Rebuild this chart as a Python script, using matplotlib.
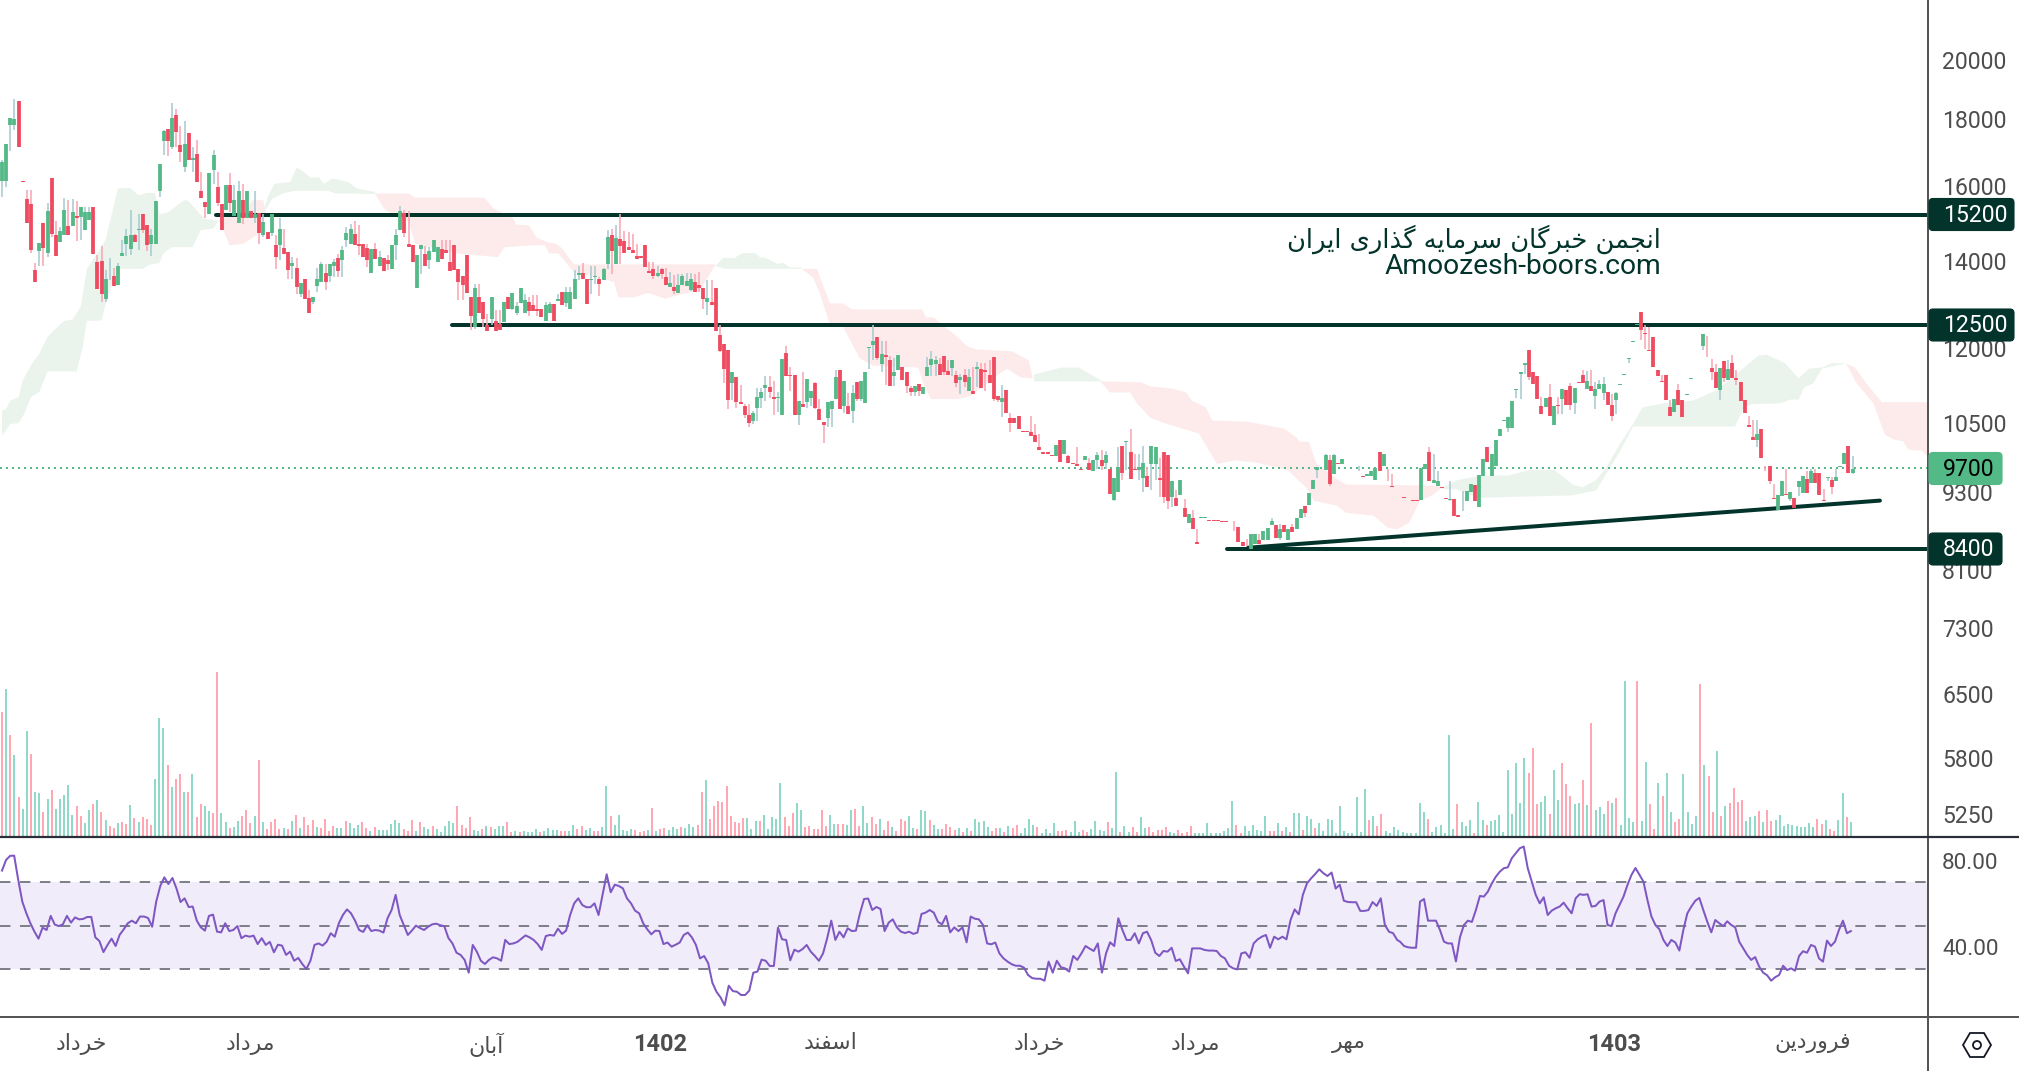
import numpy as np
import matplotlib
matplotlib.use("Agg")
import matplotlib.pyplot as plt
from matplotlib.patches import FancyBboxPatch, Polygon, Circle
from matplotlib.ticker import FixedLocator, FixedFormatter, NullLocator

# ---------- candle data (prices) ----------
candle_dir = (
"GGGGRRRRRG" "RGRRGGRGRG" "GGRRRGGRGG" "GGRGRRGGGG" "RGRRGRGRRR" "GGRRGRGGRG" "RGRGRGRGRR" "GRGRRGGGRG" "GRGGGRRRRG" "RGRRGGGRRR"
"GGRGGGRRRR" "RRRRGRRRGR" "RGRGGGGRRR" "RGGRGRGGGG" "RRGGRGGRGR" "RRRRRRRRGR" "RGRGGGGRR"
"RGRRRRRGRR" "RRGGGGRRGG" "RRRGRGGRRR" "GGGRGRGRGG" "GGRGRRGGRR" "RGRGGGGRRR" "GRGRGRGRRR" "RRGRRRRRRR" "RRRRRGRGRR" "RRGRGGRGRG" "GRGRRGGRGG" "RRRGRGRGRR" "GGRRRRRRRR" "RRGGRGGGRG" "RGRGGRGGGG" "GRGRGRR"
"RGRGGGRGRR" "RRRRRRGGRG" "GRRGRRGGGR" "GGRGGGGGGG" "GGRRRRGRGR" "GRRGRRGRGG" "GRRGGGGGGR" "RRRRRRRGRR" "GGGGGRRRGR" "GRRRRRRGRR" "RRGGRGRGGR" "GRRRGRGGGR" "G")

body_high = [
16700,17230,18060,18000,18600,16130,15630,15490,13770,14470,
14990,15290,16210,14660,14760,15320,14890,15270,15160,15400,
15270,15270,15400,13980,14000,13560,13890,13630,13890,14200,
14630,14660,14660,14830,15210,14920,14660,15570,16630,17630,
17690,18040,18140,17200,17230,17570,16820,16940,15850,15540,
16360,16890,15960,15490,16010,16010,15600,15850,15600,15850,
15290,15210,15240,15000,14740,15210,14400,14810,14320,14220,
13960,13820,13460,13560,13120,13130,13560,13920,13720,13920,
13970,14070,14270,14710,14810,14680,14430,14430,14320,14300,
14300,14100,14070,14020,14400,14660,15290,15240,14430,14400,
14150,14400,14170,14250,14530,14350,14300,14270,13970,14400,
13800,13630,14150,13130,13340,13130,13010,12490,13130,12580,
12530,13010,13130,13220,12920,13340,13060,13010,12940,12850,
12850,12940,12970,12970,13080,13250,13250,13250,13560,13700,
13720,13560,13560,13630,13560,13800,14600,14660,14580,14550,
14500,14350,14270,14120,14120,14400,13750,13800,13720,13800,
13600,13460,13360,13410,13630,13510,13560,13480,13410,
13340,13120,13010,13340,12270,12090,11950,11510,11390,10910,
10820,10650,10700,11010,11090,11230,11190,11010,11010,11760,
11900,11430,11430,10930,10860,11350,11110,11270,10760,10530,
10900,10930,11390,11550,11310,10820,11070,11290,11310,11490,
12030,12140,12230,11880,11860,11740,11490,11860,11610,11510,
11170,11210,11250,11190,11610,11760,11740,11670,11840,11530,
11740,11430,11390,11430,11390,11110,11610,11570,11550,11430,
11820,11030,10990,11130,10590,10590,10630,10350,10350,10330,
10280,10060,9970,9970,9920,10110,10200,10200,9900,9780,
9760,9690,9900,9780,9840,9930,9840,9930,9690,9530,
9720,10080,10170,9970,9690,9710,9790,9570,10080,10060,
9530,9970,9930,9470,9200,9500,9040,8940,8880,8500,
8890,8890,8850,8850,8850,8835,8835,8740,8680,8740,
8500,8450,8620,8620,8530,8680,8720,8835,8770,8710,
8770,8700,8730,8880,9020,9060,9280,9500,9720,9790,
9920,9840,9930,9780,9860,9670,9655,
9655,9655,9570,9590,9655,9700,9970,9940,9485,9400,
9385,9270,9210,9170,9165,9165,9695,9760,9985,9495,
9485,9370,9190,9180,9180,8930,9154,9318,9420,9415,
9580,9850,10075,9940,10200,10385,10565,10610,10915,11150,
11490,11675,11949,11490,11410,10835,10990,11010,10835,10855,
11150,11129,11210,11170,11290,11430,11310,11210,11150,11250,
11250,11090,10855,11070,11250,11450,11790,12140,12520,12800,
12315,11949,12230,11532,11310,11430,10815,10970,11129,10950,
11050,11370,11695,11925,12300,11820,11575,11490,11575,11720,
11555,11695,11370,11290,10950,10460,10240,10310,10400,9655,
9740,9195,9250,9470,9260,9300,9200,9470,9570,9520,
9655,9620,9620,9170,9550,9500,9550,9740,9955,10090,
9690]

body_low = [
16130,16140,17820,17820,17150,16110,14980,14270,13490,14250,
14340,14210,14680,14130,14490,14660,14660,14890,15100,15140,
14790,15050,14170,13320,13210,13100,13880,13390,13410,14130,
14430,14300,14490,14800,14800,14410,14430,14430,15850,17320,
17320,17150,17610,16980,16550,16750,16750,16110,15650,15400,
15210,16450,15520,14790,15320,15510,15180,14970,15100,15120,
15100,15100,14710,14660,14550,14710,14100,14400,14170,13770,
13870,13370,13200,13100,12780,13010,13390,13490,13480,13630,
13890,13750,14020,14530,14440,14400,14370,14100,14020,13700,
14050,13890,13750,13920,13800,14400,14790,14710,14360,13970,
13340,14300,13890,14020,14220,13970,14050,14200,13750,13770,
13480,13410,13220,12690,12450,12780,12630,12360,12630,12360,
12380,12560,12850,12850,12780,12990,12760,12810,12810,12810,
12670,12600,12760,12600,13040,12940,12990,12850,13100,13650,
13560,12970,13530,13600,13440,13530,13920,14250,13920,14370,
14200,14270,14200,14050,14080,13850,13720,13630,13630,13680,
13410,13360,13270,13220,13410,13390,13290,13250,13340,
13090,13030,12940,12360,11930,11570,10950,11270,10900,10870,
10650,10510,10550,10780,10990,11170,11090,10970,10990,10650,
11410,11410,10660,10660,10800,10900,10990,10780,10570,10460,
10590,10760,10970,10760,10820,10680,10740,10970,10970,10880,
12010,12060,11780,11670,11820,11210,11410,11550,11330,11210,
11090,11090,11110,11050,11410,11650,11670,11430,11510,11430,
11590,11270,11330,11290,11110,11050,11570,11170,11510,11270,
10970,10950,10900,10700,10500,10500,10400,10330,10330,10260,
10150,10020,9950,9950,9900,9900,9810,9950,9790,9760,
9740,9670,9840,9660,9640,9830,9740,9790,9270,9170,
9300,9620,10150,9520,9670,9660,9530,9380,9760,9760,
9490,9220,9140,9220,9060,9250,8890,8800,8700,8480,
8880,8880,8830,8830,8830,8820,8820,8730,8670,8510,
8450,8440,8400,8470,8480,8540,8540,8760,8570,8570,
8660,8530,8660,8700,8880,8960,9090,9350,9660,9780,
9670,9430,9590,9760,9760,9660,9645,
9645,9645,9550,9570,9570,9500,9655,9740,9470,9385,
9375,9260,9195,9160,9154,9154,9165,9690,9485,9440,
9390,9360,9175,9170,8910,8890,9145,9154,9300,9154,
9050,9570,9810,9570,9740,10270,10545,10420,10420,11130,
11465,11635,11395,11250,10970,10665,10815,10645,10475,10835,
10970,10855,10855,10875,11270,11270,11150,11115,11030,11150,
11070,10855,10645,10933,11235,11435,11770,12130,12500,12381,
12300,11935,11610,11410,11295,10950,10645,10720,10855,10625,
11035,11355,11685,11915,12050,11805,11490,11170,11129,11370,
11329,11370,11329,10915,10685,10440,10200,10200,9865,9645,
9485,9180,9005,9230,9245,9180,9040,9385,9285,9285,
9450,9450,9250,9140,9535,9385,9470,9720,9760,9620,
9620]

wick_high = [
16750,17230,18060,18660,18600,16130,15880,15880,13960,14470,
14990,15510,16210,15030,14880,15650,15600,15620,15580,15400,
15410,15410,15400,14150,14370,13790,14090,13830,13960,14530,
14810,15340,14700,15210,15230,14920,14810,15570,16630,17680,
17690,18520,18350,17790,17950,17570,17150,17350,16390,15540,
16360,17040,16390,15490,16010,16360,16020,16130,16050,15850,
15290,15850,15240,15210,14740,15230,14660,15120,14810,14220,
14100,14070,13460,13560,13290,13130,13820,13970,13920,13920,
14060,14190,14370,14880,14950,15030,14920,14430,14440,14300,
14470,14250,14070,14150,14400,14810,15450,15320,15290,14400,
14150,14400,14370,14360,14530,14350,14530,14530,14530,14400,
13800,13630,14150,13130,13450,13450,13010,12750,13130,12830,
12830,13010,13130,13220,13030,13340,13210,13140,13190,13190,
12850,13020,13020,12970,13210,13250,13370,13380,13770,13890,
13960,13560,13870,13890,13610,13830,14790,14810,14920,15230,
14770,14750,14700,14430,14120,14400,13980,13980,13870,13830,
13830,13730,13670,13690,13690,13700,13700,13690,13730,
13340,13531,13531,13340,12490,12090,11950,11510,11390,11230,
10860,10860,10730,11170,11170,11410,11410,11310,11100,11760,
12040,11600,11430,10930,11510,11350,11110,11290,10970,10530,
10900,10930,11550,11550,11310,11070,11230,11290,11310,11490,
12030,12490,12230,12140,12140,11840,11790,11860,11610,11510,
11210,11210,11250,11190,11800,11930,11840,11780,11840,11740,
11740,11530,11460,11560,11570,11610,11700,11680,11680,11740,
11820,11030,11230,11130,10700,10590,10630,10350,10350,10630,
10480,10300,9970,9970,9920,10110,10200,10200,9930,9780,
10060,9690,9900,9880,9840,9970,10020,9990,9690,9530,
10060,10080,10170,10390,9950,9950,10080,9710,10080,10060,
9880,9970,9930,9470,9320,9500,9180,8940,9010,8700,
8890,8890,8850,8850,8850,8835,8835,8740,8835,8740,
8500,8550,8620,8620,8630,8680,8720,8880,8770,8780,
8770,8700,8780,8880,9020,9060,9280,9500,9720,9790,
9950,9920,9950,9780,9860,9670,9655,
9655,9740,9570,9590,9655,9700,9970,9940,9680,9590,
9385,9270,9210,9170,9165,9165,9695,9760,10060,9940,
9655,9370,9190,9485,9180,8930,9318,9318,9420,9415,
9580,9850,10075,9940,10200,10385,10565,10610,10915,11150,
11490,11675,11949,11490,11410,10995,10990,11250,10835,10995,
11150,11129,11275,11170,11290,11532,11520,11532,11295,11329,
11395,11090,11060,11095,11250,11450,11790,12140,12520,12800,
12500,12460,12230,11532,11430,11430,10933,10970,11265,10950,
11050,11370,11695,11925,12300,12260,11770,11670,11575,11720,
11738,11845,11532,11290,10950,10645,10552,10552,10400,9740,
9740,9430,9250,9470,9690,9300,9200,9470,9570,9655,
9690,9690,9620,9345,9550,9550,9690,9740,9955,10090,
9900]

wick_low = [
15690,15970,17030,17660,17150,16110,14980,14210,13490,13880,
13880,14100,14620,14130,14490,14660,14660,14890,14510,14540,
14790,15050,14170,13320,13020,13020,13530,13390,13410,14130,
14130,14150,14490,14270,14720,14250,14130,14430,15690,16910,
16860,17070,17150,16700,16390,16750,16400,16110,15650,15100,
15210,16050,15430,14790,15320,15270,15180,14970,14960,15120,
15100,14980,14430,14620,14550,14630,13800,14020,14170,13560,
13560,13210,13140,13100,12780,12970,13250,13490,13290,13480,
13610,13610,13610,14360,14440,14400,14150,14100,13860,13700,
14050,13890,13750,13770,13800,14020,14790,14620,14360,13970,
13340,13690,13890,13800,14220,13970,14050,14200,13750,13770,
13060,13060,13220,12380,12420,12780,12460,12360,12490,12360,
12380,12560,12850,12830,12720,12990,12760,12690,12810,12690,
12670,12600,12760,12600,13040,12940,12900,12850,13100,13530,
13560,12970,13200,13440,13170,13530,13800,13690,13920,13920,
14200,14270,14200,14050,14080,13850,13700,13570,13610,13560,
13410,13360,13210,13220,13410,13390,13270,13250,13250,
12870,12720,12940,12360,11910,11270,10760,10950,10780,10870,
10600,10440,10480,10550,10780,10930,10990,10660,10720,10650,
11410,11110,10660,10460,10800,10780,10820,10760,10570,10130,
10440,10430,10970,10760,10700,10680,10510,10930,10930,10880,
11570,11740,11740,11490,11230,11210,11210,11550,11330,11070,
11030,11030,11030,11050,11410,11410,11410,11430,11430,11430,
11410,11190,11060,11190,11110,11050,11190,11170,11110,11270,
10930,10910,10610,10700,10330,10500,10400,10330,10330,10260,
10150,10020,9950,9950,9900,9900,9810,9950,9790,9760,
9740,9670,9840,9660,9640,9680,9660,9680,9270,9150,
9300,9490,9660,9520,9660,9490,9300,9380,9320,9490,
9210,9110,9020,9050,9060,9250,8890,8800,8700,8480,
8880,8880,8830,8830,8830,8820,8820,8730,8670,8510,
8450,8440,8400,8470,8470,8540,8540,8760,8570,8530,
8660,8530,8660,8700,8880,8890,9090,9350,9530,9780,
9670,9400,9590,9760,9760,9660,9645,
9645,9645,9550,9570,9570,9500,9655,9740,9470,9385,
9375,9260,9195,9160,9154,9154,9165,9690,9485,9440,
9390,9360,9175,9154,8910,8890,8993,9154,9300,9154,
9050,9570,9810,9570,9740,10270,10545,10340,10420,10990,
10965,11465,11329,11250,10970,10665,10815,10645,10475,10675,
10675,10855,10741,10675,11270,11270,11150,11115,10770,11150,
10933,10855,10540,10675,11235,11435,11685,12130,12500,12163,
11985,11935,11610,11410,11295,10950,10645,10720,10855,10625,
11035,11355,11685,11915,11949,11805,11329,11170,10933,11295,
11329,11370,11230,10915,10685,10440,10200,10075,9865,9645,
9420,9180,9005,9230,9245,9140,9040,9230,9285,9285,
9450,9450,9250,9140,9470,9270,9470,9720,9760,9620,
9600]

# signed volume: negative bars belong to falling candles
volume_a = [
-371,439,-301,241,-115,79,313,-244,130,127,-70,109,-136,79,109,121,151,61,-88,-58,
37,76,-94,106,-70,46,-28,-22,37,-40,-34,91,-52,40,-55,-49,-31,169,352,322,
-211,145,-169,-184,130,-130,184,-55,-94,88,73,-67,-490,67,40,-22,25,43,-58,-76,
-37,58,-226,40,-19,-40,-49,-19,22,-19,43,-61,22,-55,-31,-46,25,-22,-49,-13,
-28,22,22,-43,37,22,31,-40,-22,13,-25,16,16,16,34,46,37,-19,-13,-46,
13,-40,25,19,-28,19,10,28,43,37,-88,-31,-22,-55,16,13,-19,28,-25,19,
28,28,-40,-10,13,-10,13,10,10,19,-10,13,22,16,16,-13,-13,13,31,-19,
-28,16,22,-13,-13,25,148,-58,31,61,16,13,19,-16,-10,-13,16,-82,13,-19,
-22,16,25,19,-25,22,34,25,-31]
volume_b = [
-130,166,-49,-88,-103,-100,-148,-58,-40,-37,-52,52,19,43,-43,61,19,55,49,157,
-55,-28,-67,97,76,-25,-28,-19,-19,-76,-28,61,34,-34,-34,31,76,-79,-28,88,
37,-55,-34,49,-16,-43,25,-13,-49,-43,58,22,-19,76,73,-46,31,19,-19,-34,
-25,-16,22,-10,22,-13,49,40,43,25,-13,-22,22,-10,28,-22,-31,7,22,49,
31,-25,7,19,7,37,-13,-13,-16,10,43,10,-16,-10,19,43,16,13,-40,22,
190,-10,28,10,-25,-10,55,22,-25,-10,-16,-16,-25,10,7,-16,-7,-10,-28,7,
7,7,37,7,7,7,13,22,103,-31,-7,28,13,31,16,13,58,-13,-13,37,
-13,25,-10,67,67,-16,58,49,-22,37,13,49,46,7,88,13,7,7,115,10,
139,-46,58,-28,-64,13,7,25,16]
volume_c = [
10,7,7,7,97,70,-49,10,25,31,7,301,19,-94,40,28,46,-7,100,46,
-31,43,46,61,10,196,64,217,97,232,-187,-262,-94,100,118,-64,196,106,-217,-154,
-118,94,97,-166,91,-337,76,85,64,-103,97,-112,31,463,52,40,-463,43,220,-94,
-19,157,-118,187,70,-40,-49,184,70,34,58,-454,211,-178,-70,253,-58,88,-97,-142,
-100,-106,43,55,58,-73,40,-76,-43,46,61,28,34,31,28,25,25,37,25,-49,
-34,46,-19,-13,46,127,-55,40]
volume_a_bars = [0.0, 168.0]
volume_b_bars = [169.0, 337.2]
volume_c_bars = [338.4, 446.6]

rsi_a = [
75.4,80.3,82.2,82.3,71.1,61.1,55.7,51.1,47.2,44,49.1,48,54.5,50.5,49.8,50.6,54.5,51.4,53.8,52.9,
53.1,54,54,44.6,42.9,37.8,41.1,44,40.6,45.8,48.3,51.1,52.3,51.1,54.2,54.2,53.5,49.5,61.1,68.3,
72.3,69.2,72,67.1,60.9,62.6,58.6,58.8,52.3,49.2,47.7,54.5,55.1,47.2,46.9,51.1,47.5,48,49.8,44.2,
45.4,44.9,45.4,41.5,44.2,41.1,42.5,37.7,41.2,40.8,36.5,38,33.8,35.1,32.3,30,33.8,41.1,41.8,40.8,
42.6,46.5,44.9,51.1,54.9,57.5,55.7,52.3,48,47.1,50.2,47.5,48,47.7,46.8,53.4,57.2,64.2,54.9,50.3,
45.7,47.7,50,48.9,48,49.5,50.6,50.9,50.2,49.7,44.3,41.8,37.5,36.5,34.2,28.3,41.1,38,33.8,32.3,
34.2,35.4,34.9,33.8,43.4,41.5,41.8,42.5,44,45.5,44.6,43.4,41.5,38.8,45.2,45.7,45.4,48.6,46.2,47.7,
54.9,60.3,62.6,59.5,58.5,58.5,60.3,54.9,64.2,73.7,65.4,68.9,68.3,67.2,62.6,60.3,56.9,55.7,51.1,48.3,
46,47.7,47.5,41.5,42.2,40.3,41.2,42.2,45.7,46.8,44.6,41.1,34.9]
rsi_b = [
36,32.6,23.7,19.5,16.9,13.2,22.3,19.8,19.5,18,18,20,28.3,28.8,34.3,33.8,31.4,31.4,49.1,43.7,
43.4,34,38.9,38,39.2,41.1,38,36,33.8,37.2,44.2,52.3,43.4,47.2,44.6,48.8,47.5,47.7,55.7,62.3,
62.5,57.2,58.6,57.7,47.5,51.4,52.9,49.2,47.2,46.6,47.2,46.2,46.8,55.4,56,57.2,56,51.8,50.6,54.5,
46.9,49.2,47.5,49.2,42.3,54.2,53.2,52.9,50.3,41.8,41.4,42.2,37.2,34.9,33.4,32.2,31.5,31.5,30.6,27.2,
25.8,25.5,25.5,24.6,33.4,28.3,33.8,30.8,30.3,28.8,36,34.2,37.2,40.6,39.4,38.3,41.8,28.3,37.2,42.3,
40.6,53.4,48,43.4,43.4,46.5,41.8,46.5,47.2,43.4,37.5,36,38.3,38,39.8,33.7,34.5,31.1,28,39.5,
39.5,39.5,38.8,38.5,38.5,38.3,36,34.9,31.5,30.3,29.8,37.2,37.7,35.2,41.8,43.7,44.9,45.7,39.8,44.9,
43.7,44.9,43.7,52.6,57.5,55.2,64.2,69.5,71.8,73.8,76,74.2,72.9,74.5,67.1,68.9,61.5,60.9,60.8,60.8,
56.8,56.8,57.2,60.9,59.1,62.6,50.3,47.2,46.5,43.4]
rsi_c = [
42.6,40.6,40,39.8,39.8,61.1,62.3,52.3,52.3,52.3,48,42.6,41.8,41.8,33.5,44.6,50.3,52.3,51.7,57.2,
63.7,63.4,65.7,69.5,72.6,74.9,76.5,76.9,81.1,83.4,85.7,86.5,76.5,70.3,64.2,60.3,63.1,54.9,56.9,58,
58.8,60.6,58,55.7,62.6,64.5,64.2,64.5,58.8,59.1,61.1,61.8,50.3,49.8,55.7,59.5,63.4,68.8,73.4,76.6,
73.4,70.3,61.8,54.2,50.3,48.3,43.4,40.6,43.4,42.2,38.5,48,55.7,58.8,61.5,62.8,57.2,51.8,46.9,52.6,
51.1,49.8,52,50.3,49.2,42.6,39.5,36.5,34.2,35.5,31.1,28.3,27.1,24.6,26.2,27.2,31.5,29.5,30.3,29.2,
36,38.2,37.5,41.1,40.3,34.9,33.4,43.1,40.6,42.6,48,52.3,46.5,47.5]
rsi_a_bars = [0.0, 168.6]
rsi_b_bars = [169.6, 337.0]
rsi_c_bars = [337.7, 446.6]

# ---------- ichimoku cloud outlines: bar position, price ----------
green1_top_bar = [0,1,2,4,5,7,9,11,13,15,17,19,20.5,22,25,28,31,33,35,37,38,40,42,44,45,47.5,49,52]
green1_top = [10740,10770,10930,11000,11330,11640,11880,12240,12420,12590,12620,12910,13810,14040,14530,15930,15940,15730,15800,15800,15210,15260,15430,15600,15580,15260,15090,15050]
green1_bot_bar = [0,1,2,4,5.4,7,9,11,18,19.5,20.5,24,25.4,28,34,35.6,38,39,41,46,48,51,52.4]
green1_bot = [10275,10370,10490,10500,10680,11000,11100,11510,11510,12020,12590,12600,13100,13810,13810,13910,13950,14200,14350,14350,14790,14830,15050]
red1_top_bar = [52.4,58.8,60.4,63.1,63.7]
red1_top = [15070,15280,15600,15600,15280]
red1_bot_bar = [52.4,55,58.3,61.5,63.7]
red1_bot = [15050,14400,14440,14660,15280]
green2_top_bar = [63.1,64.2,65.8,69.6,71.2,72.9,74.5,76.6,77.7,79.9,83.6,85.8,90.1]
green2_top = [15230,15690,16060,16110,16530,16400,16240,16240,16060,16210,16110,15920,15830]
green2_bot_bar = [63.1,65.3,68,70.7,78.8,80.4,90.1]
green2_bot = [15230,15640,15790,15860,15860,15790,15770]
red2_top_bar = [90.1,98.2,99.8,116.5,118.7,123.6,124.1,127.3,129,131.6,133.8,135.4,138.1,172.2]
red2_top = [15785,15785,15670,15670,15370,15100,14940,14920,14610,14480,14440,14310,13920,13920]
red2_bot_bar = [90.1,92.3,95,98.2,99.8,110,119.8,121.4,127.9,131.1,132.2,134.4,138.1,144,147.8,148.9,152.7,156,160.2,164.5,168.6,172.2]
red2_bot = [15770,15370,15140,15010,14440,14190,14100,14350,14400,14400,14190,14190,13730,13610,13490,13130,13130,13230,13100,13210,13290,13890]
green3_top_bar = [172.2,174.2,177,178.8,181.9,183.1,184.3,187.4,188.7,190.3,193.2]
green3_top = [13870,14080,14080,14200,14200,14090,14090,13930,13960,13840,13840]
green3_bot_bar = [172.2,174.6,193.2]
green3_bot = [13880,13810,13810]
red3_top_bar = [193.5,196.9,197.6,200,203.1,205.3,222.2,223.2,225.1,227.8,230.9,233.1,235.3,244,248,249]
red3_top = [13810,13810,13600,12990,12990,12850,12850,12670,12670,12450,12230,12040,11970,11930,11740,11370]
red3_bot_bar = [193.5,195.9,197.6,200,202.9,207.2,210.4,221.3,222.9,224.4,230.9,234,238.4,242.8,246,249]
red3_bot = [13790,13600,13200,12500,12500,11780,11630,11590,11190,10960,10960,11020,11320,11570,11390,11370]
green4_top_bar = [249.3,255.8,260.1,265.5]
green4_top = [11450,11590,11590,11329]
green4_bot_bar = [249.3,265.5]
green4_bot = [11310,11310]
red4_top_bar = [265.5,275.1,277.4,282.6,286,287.4,290.8,292.3,301,309.7,312.8,313.5,315.7,317.4,321.3,324.6,347.1,348]
red4_top = [11310,11290,11210,11170,11090,10930,10800,10550,10530,10400,10230,10160,10160,9790,9560,9420,9400,9370]
red4_bot_bar = [265.5,267.6,272.5,274.1,277.4,281.7,289.1,293.5,297.9,303.2,310.6,315,316.9,322.5,324.6,331.4,334.8,337,339.9,342.5,345.4,348]
red4_bot = [11290,11090,11090,10880,10600,10480,10310,9770,9830,9790,9660,9370,9150,9070,8960,8910,8720,8700,8800,9150,9240,9370]
green5_top_bar = [348,351.5,357,363.8,369.3,374.9,379.4,381.7,385,387.7,390.6,394,396.2,401.7,408.4,414,420.8,424.2,426.3,430.7,434,436.5,439.6,442,445.4]
green5_top = [9370,9490,9570,9570,9670,9670,9420,9370,9490,9730,10100,10490,10800,10880,10930,11130,11590,11840,11860,11680,11370,11570,11590,11680,11680]
green5_bot_bar = [348,351.5,356.5,379.4,385,387.2,390.6,394,418.6,420.8,422.5,429.7,431.9,434,435.3,437.5,439.6,445.4]
green5_bot = [9340,9340,9200,9240,9320,9560,9960,10440,10440,10800,10860,10880,10950,10950,11190,11270,11570,11680]
red5_top_bar = [445.4,447.6,450.3,454.1,465.2]
red5_top = [11680,11590,11270,10900,10900]
red5_bot_bar = [445.4,448,452,454.8,457,459.2,460.4,463.8,465.2]
red5_bot = [11680,11270,10880,10290,10200,10170,10020,10000,9890]

# ---------- drawn levels ----------
level_prices = [15200, 12500, 8400]
level_start_bar = [51.8, 108.7, 295.9]
trend_bar = [301, 453.6]
trend_price = [8420, 9154]
last_price = 9700

# ---------- axis labels ----------
price_ticks = [20000, 18000, 16000, 14000, 12000, 10500, 9300, 8100, 7300, 6500, 5800, 5250]
rsi_ticks = [40, 80]
month_bars = [19.2, 59.9, 116.9, 158.9, 200, 250.6, 288.2, 325.4, 389.4, 437.4]
month_labels = ["خرداد", "مرداد", "آبان", "1402", "اسفند", "خرداد", "مرداد", "مهر", "1403", "فروردین"]
watermark_fa = "انجمن خبرگان سرمایه گذاری ایران"
watermark_en = "Amoozesh-boors.com"

# ---------- colours ----------
UP, DOWN = "#53B987", "#EF4B60"
UP_WICK, DOWN_WICK = "#A8CBD2", "#F7A8B4"
VOL_UP, VOL_DOWN = "#8BD6C6", "#FFA3AE"
CLOUD_UP, CLOUD_DOWN = "#EBF4EC", "#FDEBEC"
DARK = "#02342B"
AXIS = "#555555"
TEXT = "#4D4D4D"

# Persian needs joined glyphs, matplotlib does not shape text
FORMS = {
 "ا": "\uFE8D\uFE8E", "آ": "\uFE81\uFE82", "د": "\uFEA9\uFEAA", "ذ": "\uFEAB\uFEAC",
 "ر": "\uFEAD\uFEAE", "و": "\uFEED\uFEEE",
 "ب": "\uFE8F\uFE90\uFE91\uFE92", "ج": "\uFE9D\uFE9E\uFE9F\uFEA0", "خ": "\uFEA5\uFEA6\uFEA7\uFEA8",
 "س": "\uFEB1\uFEB2\uFEB3\uFEB4", "ف": "\uFED1\uFED2\uFED3\uFED4", "م": "\uFEE1\uFEE2\uFEE3\uFEE4",
 "ن": "\uFEE5\uFEE6\uFEE7\uFEE8", "ه": "\uFEE9\uFEEA\uFEEB\uFEEC", "ی": "\uFBFC\uFBFD\uFBFE\uFBFF",
 "گ": "\uFB92\uFB93\uFB94\uFB95",
}
def shape(text):
    if text.isdigit():
        return text
    out = []
    for k, ch in enumerate(text):
        if ch not in FORMS:
            out.append(ch)
            continue
        f = FORMS[ch]
        prev = text[k - 1] if k else " "
        nxt = text[k + 1] if k + 1 < len(text) else " "
        joins_prev = prev in FORMS and len(FORMS[prev]) == 4
        joins_next = len(f) == 4 and nxt in FORMS
        if joins_prev and joins_next:
            out.append(f[3])
        elif joins_next:
            out.append(f[2])
        elif joins_prev:
            out.append(f[1])
        else:
            out.append(f[0])
    return "".join(reversed(out))

W, H = 2019, 1071
PITCH = 4.14
PANE_R, MAIN_B, RSI_B = 1928, 837, 1017
px = 0.72  # points per pixel at dpi 100

n = len(candle_dir)
assert n == len(body_high) == len(body_low) == len(wick_high) == len(wick_low), (n, len(body_high), len(body_low), len(wick_high), len(wick_low))
bars = np.linspace(0, 447, n)
up = np.array([c == "G" for c in candle_dir])
b_hi, b_lo = np.array(body_high, float), np.array(body_low, float)
w_hi = np.maximum(np.array(wick_high, float), b_hi)
w_lo = np.minimum(np.array(wick_low, float), b_lo)

def box(l, t, r, b):
    return [l / W, 1 - b / H, (r - l) / W, (b - t) / H]

plt.rcParams["font.family"] = ["Roboto", "DejaVu Sans"]
fig = plt.figure(figsize=(W / 100, H / 100), dpi=100, facecolor="white")

xlim = (-2 / PITCH, (PANE_R - 2) / PITCH)

# ---------- main price pane ----------
ax = fig.add_axes(box(0, 0, PANE_R, MAIN_B))
ax.set_yscale("log")
ax.set_xlim(*xlim)
ax.set_ylim(5040, 22249)
for s in ax.spines.values():
    s.set_visible(False)
ax.set_xticks([])
ax.yaxis.tick_right()
ax.yaxis.set_major_locator(FixedLocator(price_ticks))
ax.yaxis.set_major_formatter(FixedFormatter([str(p) for p in price_ticks]))
ax.yaxis.set_minor_locator(NullLocator())
ax.tick_params(axis="y", which="major", length=0, pad=14 * px, labelsize=23 * px, labelcolor=TEXT)

clouds = [
 (green1_top_bar, green1_top, green1_bot_bar, green1_bot, CLOUD_UP),
 (red1_top_bar, red1_top, red1_bot_bar, red1_bot, CLOUD_DOWN),
 (green2_top_bar, green2_top, green2_bot_bar, green2_bot, CLOUD_UP),
 (red2_top_bar, red2_top, red2_bot_bar, red2_bot, CLOUD_DOWN),
 (green3_top_bar, green3_top, green3_bot_bar, green3_bot, CLOUD_UP),
 (red3_top_bar, red3_top, red3_bot_bar, red3_bot, CLOUD_DOWN),
 (green4_top_bar, green4_top, green4_bot_bar, green4_bot, CLOUD_UP),
 (red4_top_bar, red4_top, red4_bot_bar, red4_bot, CLOUD_DOWN),
 (green5_top_bar, green5_top, green5_bot_bar, green5_bot, CLOUD_UP),
 (red5_top_bar, red5_top, red5_bot_bar, red5_bot, CLOUD_DOWN),
]
for tx, ty, bx, by, col in clouds:
    ax.fill(list(tx) + list(bx)[::-1], list(ty) + list(by)[::-1], color=col, lw=0, zorder=1)

ax.hlines(last_price, *xlim, color=UP, lw=2 * px, linestyles=(0, (1, 2)), zorder=1.4)
for p, s in zip(level_prices, level_start_bar):
    ax.plot([s, xlim[1]], [p, p], color=DARK, lw=4 * px, solid_capstyle="round", zorder=1.6)
ax.plot(trend_bar, trend_price, color=DARK, lw=4 * px, solid_capstyle="round", zorder=1.6)

ax.vlines(bars[up], w_lo[up], w_hi[up], color=UP_WICK, lw=1.6 * px, zorder=2)
ax.vlines(bars[~up], w_lo[~up], w_hi[~up], color=DOWN_WICK, lw=1.6 * px, zorder=2)
ax.vlines(bars[up], b_lo[up], b_hi[up], color=UP, lw=3.8 * px, zorder=2.2)
ax.vlines(bars[~up], b_lo[~up], b_hi[~up], color=DOWN, lw=3.8 * px, zorder=2.2)

# ---------- volume overlay ----------
vol = np.array(volume_a + volume_b + volume_c, float)
vol_bars = np.concatenate([np.linspace(*volume_a_bars, len(volume_a)),
                           np.linspace(*volume_b_bars, len(volume_b)),
                           np.linspace(*volume_c_bars, len(volume_c))])
ax_v = fig.add_axes(box(0, 0, PANE_R, MAIN_B), facecolor="none")
ax_v.set_xlim(*xlim)
ax_v.set_ylim(-4, MAIN_B * 3 - 4)
ax_v.axis("off")
ax_v.vlines(vol_bars[vol > 0], 0, vol[vol > 0], color=VOL_UP, lw=1.9 * px)
ax_v.vlines(vol_bars[vol < 0], 0, -vol[vol < 0], color=VOL_DOWN, lw=1.9 * px)

# ---------- RSI pane ----------
ax_r = fig.add_axes(box(0, MAIN_B, PANE_R, RSI_B))
ax_r.set_xlim(*xlim)
ax_r.set_ylim(7.85, 90.9)
for s in ax_r.spines.values():
    s.set_visible(False)
ax_r.axhspan(30, 70, color="#F0ECF9", lw=0, zorder=1)
for lv in (30, 50, 70):
    ax_r.axhline(lv, color="#787B86", lw=1.9 * px, dashes=(5.5, 5), zorder=1.5)
rsi_all = rsi_a + rsi_b + rsi_c
rsi_bars = np.concatenate([np.linspace(*rsi_a_bars, len(rsi_a)),
                           np.linspace(*rsi_b_bars, len(rsi_b)),
                           np.linspace(*rsi_c_bars, len(rsi_c))])
ax_r.plot(rsi_bars, rsi_all, color="#7E57C2", lw=2 * px, zorder=2)
ax_r.yaxis.tick_right()
ax_r.set_yticks(rsi_ticks, [f"{t:.2f}" for t in rsi_ticks])
ax_r.tick_params(axis="y", length=0, pad=14 * px, labelsize=22.5 * px, labelcolor=TEXT)
ax_r.set_xticks(month_bars, [shape(m) for m in month_labels])
ax_r.tick_params(axis="x", length=0, pad=16 * px, labelsize=22 * px, labelcolor=TEXT)
for lab, raw in zip(ax_r.get_xticklabels(), month_labels):
    if raw.isdigit():
        lab.set_fontweight("bold")
        lab.set_fontsize(23.5 * px)
    else:
        lab.set_fontfamily("DejaVu Sans")
        lab.set_fontsize(22 * px)

# ---------- chrome in pixel space ----------
ov = fig.add_axes([0, 0, 1, 1], facecolor="none")
ov.set_xlim(0, W)
ov.set_ylim(H, 0)
ov.axis("off")
ov.plot([PANE_R, PANE_R], [0, H], color=AXIS, lw=2 * px)
ov.plot([0, W], [MAIN_B, MAIN_B], color="#2A2E39", lw=2.2 * px)
ov.plot([0, W], [RSI_B, RSI_B], color=AXIS, lw=2 * px)

ov.text(1661, 239, shape(watermark_fa), ha="right", va="center", color=DARK, fontsize=25.7 * px, family="DejaVu Sans")
ov.text(1661, 267, watermark_en, ha="right", va="center", color=DARK, fontsize=28.2 * px, family="Roboto")

tags = [(15200, 214.5, 2014, DARK, "white"), (12500, 325, 2014, DARK, "white"),
        (8400, 549, 2002, DARK, "white"), (9700, 468.5, 2002, UP, "black")]
for val, yc, right, bg, fg in tags:
    ov.add_patch(FancyBboxPatch((1929, yc - 16), right - 1929, 32, boxstyle="round,pad=0,rounding_size=4",
                                fc=bg, ec=bg, lw=0.8, zorder=5))
    ov.text(1943, yc + 0.5, str(val), ha="left", va="center", color=fg, fontsize=23 * px, zorder=6)

# settings hexagon
hx, hy = 1977, 1045
ov.add_patch(Polygon([(hx - 14, hy), (hx - 7, hy - 12), (hx + 7, hy - 12), (hx + 14, hy), (hx + 7, hy + 12), (hx - 7, hy + 12)],
                     closed=True, fc="none", ec="#131722", lw=1.8 * px))
ov.add_patch(Circle((hx, hy), 4, fc="none", ec="#131722", lw=1.8 * px))

fig.savefig("out.png", dpi=100, facecolor="white")
